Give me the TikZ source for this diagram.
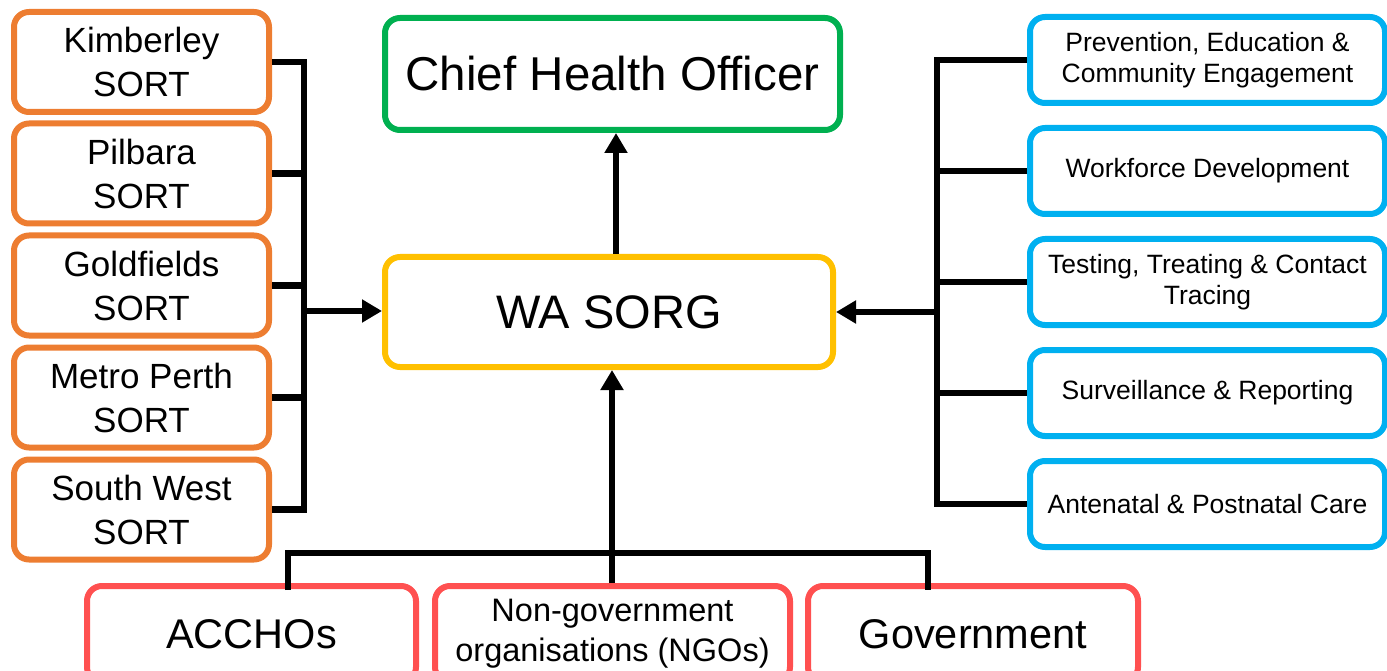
\documentclass[tikz,border=0pt]{standalone}
\usepackage{fontspec}
\setmainfont{Liberation Sans}
\usetikzlibrary{arrows.meta}
\definecolor{corange}{HTML}{ED7D31}
\definecolor{cgreen}{HTML}{00B050}
\definecolor{cyellow}{HTML}{FFC000}
\definecolor{cblue}{HTML}{00B0F0}
\definecolor{cred}{HTML}{FF5050}
\begin{document}
\begin{tikzpicture}[x=1pt,y=-1pt,
  box/.style={draw, line width=6pt, rounded corners=15pt, align=center, inner sep=0pt},
  sortbox/.style={box, draw=corange, minimum width=255pt, minimum height=100pt, font=\fontsize{35}{44}\selectfont},
  wgbox/.style={box, draw=cblue, minimum width=355pt, minimum height=86pt, font=\fontsize{26.5}{31}\selectfont},
  orgbox/.style={box, draw=cred, minimum height=96pt},
  conn/.style={line width=6.5pt, black},
  arr/.style={conn, -{Triangle[length=20pt,width=22pt]}}
]
\useasboundingbox (0,0) rectangle (1387,671);
\clip (0,0) rectangle (1387,671);

% centre
\node[box, draw=cgreen, minimum width=455pt, minimum height=112pt, font=\fontsize{47.5}{52}\selectfont] (cho) at (612.5,74) {Chief Health Officer};
\node[box, draw=cyellow, minimum width=448pt, minimum height=110pt, font=\fontsize{47}{52}\selectfont] (sorg) at (609,312) {WA SORG};

% left SORT boxes
\node[sortbox] (kim) at (141.5,62) {Kimberley\\SORT};
\node[sortbox] (pil) at (141.5,173.5) {Pilbara\\SORT};
\node[sortbox] (gol) at (141.5,285.5) {Goldfields\\SORT};
\node[sortbox] (met) at (141.5,397.5) {Metro Perth\\SORT};
\node[sortbox] (sw) at (141.5,509.5) {South West\\SORT};

% right working groups
\node[wgbox] (pec) at (1207.5,60) {Prevention, Education \&\\Community Engagement};
\node[wgbox] (wd) at (1207.5,171) {Workforce Development};
\node[wgbox] (ttc) at (1207.5,282) {Testing, Treating \& Contact\\Tracing};
\node[wgbox] (sr) at (1207.5,393) {Surveillance \& Reporting};
\node[wgbox] (apc) at (1207.5,504) {Antenatal \& Postnatal Care};

% bottom organisations
\node[orgbox, minimum width=329pt, font=\fontsize{41.5}{44}\selectfont] (acc) at (251.5,634) {ACCHOs};
\node[orgbox, minimum width=355pt, font=\fontsize{32.5}{40}\selectfont] (ngo) at (612.5,634) {Non-government\\organisations (NGOs)};
\node[orgbox, minimum width=330pt, font=\fontsize{41.5}{44}\selectfont] (gov) at (973,634) {Government};

% coordinates for buses
\coordinate (lb) at (304,311);
\coordinate (rb) at (937,312);
\coordinate (bb) at (612,553);

% left bus
\draw[conn] (kim.east) -- (kim.east -| lb) -- (sw.east -| lb) -- (sw.east);
\foreach \n in {pil,gol,met} \draw[conn] (\n.east) -- (\n.east -| lb);
\draw[arr] (lb) -- (lb -| sorg.west);

% right bus
\draw[conn] (pec.west) -- (pec.west -| rb) -- (apc.west -| rb) -- (apc.west);
\foreach \n in {wd,ttc,sr} \draw[conn] (\n.west) -- (\n.west -| rb);
\draw[arr] (rb) -- (rb -| sorg.east);

% top arrow
\draw[arr] (sorg.north -| 616,0) -- (cho.south -| 616,0);

% bottom bus
\draw[conn] (288,590) -- (288,553) -- (928,553) -- (928,590);
\draw[arr] (ngo.north -| bb) -- (sorg.south -| bb);
\end{tikzpicture}
\end{document}
